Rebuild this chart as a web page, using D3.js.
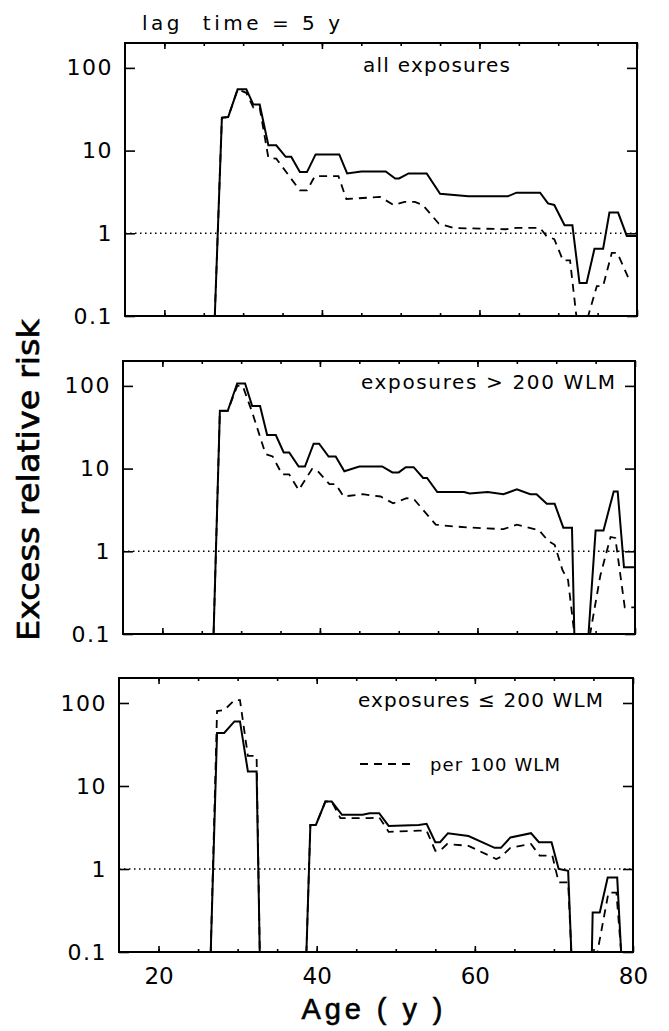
<!DOCTYPE html>
<html>
<head>
<meta charset="utf-8">
<script src="https://cdn.jsdelivr.net/npm/d3@7"></script>
<style>
  body { margin: 0; background: #fff; }
  svg { display: block; }
</style>
</head>
<body>
<div id="chart"></div>
<script>
// values: [age, excess relative risk]
const ageTicks = [20, 40, 60, 80];
const ageMinorTicks = [20, 25, 30, 35, 40, 45, 50, 55, 60, 65, 70, 75];
const riskTicks = [0.1, 1, 10, 100];
const panelLabels = ["all exposures", "exposures > 200 WLM", "exposures \u2264 200 WLM"];

const allSolid = [[26.4,0.1],[27.3,25],[28.1,25.5],[29.3,55],[30.4,55],[31.3,36],[32.1,36],[33.2,11.6],[34.2,11.6],[35.4,8.4],[36.1,8.4],[37.2,5.5],[38.1,5.5],[39.2,9],[42.2,9],[43.2,5.3],[45.0,5.6],[48.1,5.6],[49.3,4.6],[49.8,4.6],[51,5.3],[53.3,5.3],[55,3.0],[58.6,2.8],[63.6,2.8],[64.7,3.1],[67.7,3.1],[68.7,2.3],[69.5,2.2],[70.8,1.25],[71.8,1.25],[72.7,0.25],[73.6,0.25],[74.6,0.65],[75.7,0.65],[76.5,1.78],[77.6,1.78],[78.7,0.93],[80,0.93]];
const allDashed = [[26.4,0.1],[27.3,25],[28.1,25.5],[29.3,55],[30.4,50],[31.3,33],[32.1,33],[33.2,8.2],[34.2,8],[37.2,3.3],[38.1,3.3],[39.1,4.9],[42.1,4.9],[43.1,2.6],[47.4,2.75],[49.1,2.2],[50.5,2.4],[51.8,2.4],[52.8,2.2],[54.8,1.32],[56.7,1.16],[63.4,1.12],[64.7,1.16],[67.7,1.16],[68.5,0.93],[69.5,0.85],[70.6,0.47],[71.5,0.47],[72.3,0.1],[73.8,0.1],[74.9,0.23],[75.7,0.23],[76.8,0.58],[77.5,0.58],[78.9,0.29]];

const highSolid = [[26.5,0.1],[27.3,50],[28.3,50],[29.5,107],[30.5,107],[31.4,57],[32.4,57],[33.3,25.5],[34.4,25.5],[35.4,15.7],[36.1,15.7],[37.3,10.6],[38.1,10.6],[39.2,20],[39.9,20],[41.1,14],[42,14],[43.1,9.3],[45,10.6],[47.9,10.6],[49.2,9],[50,9],[50.9,10.4],[51.9,10.4],[53.1,7.7],[53.6,7.7],[54.9,5.2],[58.3,5.2],[59,5.0],[61.3,5.2],[63.3,4.9],[65,5.6],[66.7,4.9],[67.5,4.9],[68.8,3.75],[69.8,3.75],[70.9,1.93],[72,1.93],[72.3,0.1],[74.1,0.1],[75,1.79],[76,1.79],[77.3,5.3],[77.8,5.3],[78.6,0.64],[80,0.64]];
const highDashed = [[26.5,0.1],[27.3,50],[28.3,50],[29.5,100],[30.2,100],[31.4,48],[33.1,15],[34,14],[35.2,8.5],[36.1,8.5],[37.3,5.5],[39,9.9],[39.6,9.6],[41.2,6.5],[42,6.5],[43,4.6],[45.4,4.9],[47.7,4.6],[49.3,3.8],[51,4.4],[52,4.2],[54.7,2.1],[57,2.0],[59,1.94],[63.3,1.85],[65,2.1],[67.8,1.8],[69,1.33],[69.8,1.2],[70.8,0.59],[71.5,0.45],[72.3,0.1],[74.3,0.1],[75.6,0.51],[76.9,1.49],[77.5,1.45],[78.7,0.21],[80,0.21]];

const lowSolid = [[26.6,0.1],[27.4,43.5],[28.3,43.5],[29.6,60],[30.3,60],[31.3,15],[32.4,15],[32.8,0.1],[38.7,0.1],[39.2,3.4],[39.9,3.4],[41.1,6.5],[41.9,6.5],[43.2,4.5],[45.8,4.5],[46.7,4.7],[47.9,4.7],[49.1,3.3],[52.9,3.4],[53.9,3.5],[55,2.1],[55.6,2.1],[56.6,2.7],[59.2,2.5],[62.5,1.8],[63.3,1.8],[64.5,2.4],[67.1,2.7],[68.1,2.1],[69.7,2.1],[70.6,1.0],[71.8,0.95],[72.2,0.1],[74.8,0.1],[74.9,0.3],[75.8,0.3],[76.8,0.79],[78,0.79],[78.5,0.1]];
const lowDashed = [[26.6,0.1],[27.4,80],[28.3,82],[29.6,108],[30.3,108],[31.3,23],[32.4,23],[32.8,0.1],[38.7,0.1],[39.2,3.4],[39.9,3.4],[41.1,6.5],[41.9,6.5],[43,4.1],[46.7,4.1],[47.9,4.2],[49.1,2.8],[52.9,2.9],[53.9,2.9],[55,1.66],[55.6,1.66],[56.5,2.0],[59.2,1.9],[62.7,1.32],[63.3,1.4],[64.5,1.8],[67.1,2.0],[68.2,1.45],[69.8,1.45],[70.6,0.69],[71.8,0.69],[72.2,0.1],[75.5,0.1],[76.9,0.52],[77.9,0.52],[78.5,0.1]];

const solidSeries = [allSolid, highSolid, lowSolid];
const dashedSeries = [allDashed, highDashed, lowDashed];

// panel frames (the scan is slightly skewed, so each panel sits a bit differently)
const frames = [
    {top: 43, bottom: 316, left: 125, right: 637},
    {top: 361, bottom: 634, left: 123, right: 635},
    {top: 678, bottom: 952, left: 119, right: 633}
];

const width = 669;
const height = 1031;
const numFont = "'DejaVu Sans', sans-serif";

const svg = d3.select("#chart").append("svg")
    .attr("width", width)
    .attr("height", height);

frames.forEach((f, i) => {
    const x = d3.scaleLinear().domain([15, 80]).range([f.left, f.right]);
    const y = d3.scaleLog().domain([0.1, 200]).range([f.bottom, f.top]).clamp(true);

    const g = svg.append("g");

    // dotted reference line at ERR = 1
    g.append("line")
        .attr("x1", f.left).attr("x2", f.right)
        .attr("y1", y(1)).attr("y2", y(1))
        .attr("stroke", "#000")
        .attr("stroke-width", 1.4)
        .attr("stroke-dasharray", "1.5,3.5");

    const line = d3.line()
        .x(d => x(d[0]))
        .y(d => y(d[1]));

    g.append("path")
        .datum(dashedSeries[i])
        .attr("d", line)
        .attr("fill", "none")
        .attr("stroke", "#000")
        .attr("stroke-width", 1.8)
        .attr("stroke-dasharray", "8,6");

    g.append("path")
        .datum(solidSeries[i])
        .attr("d", line)
        .attr("fill", "none")
        .attr("stroke", "#000")
        .attr("stroke-width", 2);

    // axes, ticks pointing inward
    const left = g.append("g")
        .attr("transform", `translate(${f.left},0)`)
        .call(d3.axisLeft(y).tickValues(riskTicks).tickSize(-10).tickPadding(12).tickFormat(d3.format("~g")));
    left.select(".domain").remove();
    left.selectAll("text")
        .attr("font-family", numFont)
        .attr("font-size", 22)
        .attr("letter-spacing", 1.5)
        .attr("fill", "#000");

    const right = g.append("g")
        .attr("transform", `translate(${f.right},0)`)
        .call(d3.axisRight(y).tickValues(riskTicks).tickSize(-10).tickFormat(""));
    right.select(".domain").remove();

    [d3.axisBottom, d3.axisTop].forEach((axisFn, k) => {
        const pos = k === 0 ? f.bottom : f.top;
        const minor = g.append("g")
            .attr("transform", `translate(0,${pos})`)
            .call(axisFn(x).tickValues(ageMinorTicks).tickSize(-3).tickFormat(""));
        minor.select(".domain").remove();
        const major = g.append("g")
            .attr("transform", `translate(0,${pos})`)
            .call(axisFn(x).tickValues(ageTicks).tickSize(-6).tickPadding(16)
                .tickFormat(k === 0 && i === 2 ? d3.format("d") : ""));
        major.select(".domain").remove();
        major.selectAll("text")
            .attr("font-family", numFont)
            .attr("font-size", 23)
            .attr("fill", "#000");
    });
    g.selectAll(".tick line").attr("stroke", "#000").attr("stroke-width", 1.6);

    g.append("rect")
        .attr("x", f.left).attr("y", f.top)
        .attr("width", f.right - f.left).attr("height", f.bottom - f.top)
        .attr("fill", "none")
        .attr("stroke", "#000")
        .attr("stroke-width", 2);
});

// panel captions
const captionPos = [[363, 72, 147], [361, 389, 254], [358, 707, 245]];
panelLabels.forEach((t, i) => {
    svg.append("text")
        .attr("x", captionPos[i][0])
        .attr("y", captionPos[i][1])
        .attr("textLength", captionPos[i][2])
        .attr("font-family", numFont)
        .attr("font-size", 20)
        .text(t);
});

// legend in the bottom panel
svg.append("line")
    .attr("x1", 360).attr("x2", 415)
    .attr("y1", 764).attr("y2", 764)
    .attr("stroke", "#000")
    .attr("stroke-width", 1.8)
    .attr("stroke-dasharray", "8,6");
svg.append("text")
    .attr("x", 430).attr("y", 771)
    .attr("textLength", 130)
    .attr("font-family", numFont)
    .attr("font-size", 18)
    .text("per 100 WLM");

svg.append("text")
    .attr("x", 142).attr("y", 30)
    .attr("textLength", 198)
    .attr("xml:space", "preserve")
    .style("white-space", "pre")
    .attr("font-family", numFont)
    .attr("font-size", 20)
    .text("lag  time = 5 y");

svg.append("text")
    .attr("transform", "translate(39,480) rotate(-90)")
    .attr("text-anchor", "middle")
    .attr("textLength", 322)
    .attr("lengthAdjust", "spacingAndGlyphs")
    .attr("font-family", "'Liberation Sans Narrow', 'DejaVu Sans Condensed', sans-serif")
    .attr("font-size", 30)
    .attr("stroke", "#000")
    .attr("stroke-width", 0.6)
    .text("Excess relative risk");

svg.append("text")
    .attr("x", 372).attr("y", 1019)
    .attr("text-anchor", "middle")
    .attr("textLength", 141)
    .attr("xml:space", "preserve")
    .style("white-space", "pre")
    .attr("font-family", "'Liberation Sans', sans-serif")
    .attr("font-size", 29)
    .attr("stroke", "#000")
    .attr("stroke-width", 0.6)
    .text("Age ( y )");
</script>
</body>
</html>
